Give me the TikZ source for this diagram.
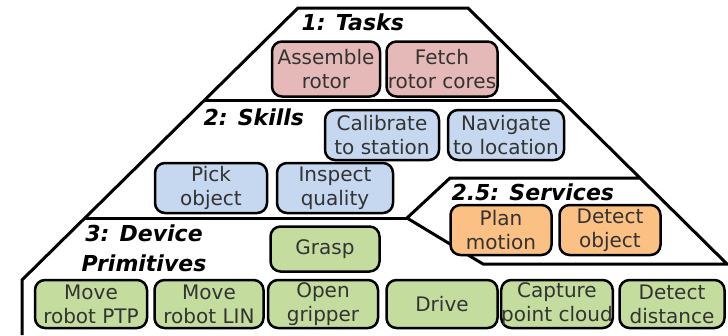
\documentclass[tikz,border=0pt]{standalone}
\usepackage{fontspec}
\setmainfont{DejaVu Sans}
\definecolor{taskred}{RGB}{229,185,183}
\definecolor{skillblue}{RGB}{198,216,239}
\definecolor{serviceorange}{RGB}{250,192,132}
\definecolor{primgreen}{RGB}{196,220,158}

\begin{document}
\begin{tikzpicture}[x=1pt, y=-1pt, line width=3pt,
  box/.style = {draw, line width=2.5pt, rounded corners=10pt, inner sep=0pt, align=center, text=black!80, font=\fontsize{20}{24}\selectfont},
  task/.style = {box, fill=taskred, minimum width=108pt, minimum height=55pt},
  skill/.style = {box, fill=skillblue, minimum width=114pt, minimum height=50pt},
  service/.style = {box, fill=serviceorange, minimum width=101pt, minimum height=50pt},
  prim/.style = {box, fill=primgreen, minimum width=109pt, minimum height=48pt},
  level/.style = {inner sep=0pt, align=center, font=\fontsize{22}{30}\selectfont\bfseries\itshape}]
\useasboundingbox (0,0) rectangle (728,335);

% pyramid outline
\draw (22,335) -- (22,280) -- (298,8) -- (468,8) -- (727,264) -- (483,264) -- (407,218) -- (450,178) -- (640,178);
\draw (407,218) -- (85,218);
\draw (205,100) -- (561,100);

% 1: tasks
\node[level, anchor=west] (tasks) at (300,22) {1: Tasks};
\node[task] (assemble) at (326,69) {Assemble\\rotor};
\node[task, minimum width=111pt] (fetch) at (442,69) {Fetch\\rotor cores};

% 2: skills
\node[level, anchor=west] (skills) at (202,117) {2: Skills};
\node[skill] (calibrate) at (382,135) {Calibrate\\to station};
\node[skill, minimum width=116pt] (navigate) at (506,135) {Navigate\\to location};
\node[skill, minimum width=112pt] (pick) at (211,188) {Pick\\object};
\node[skill, minimum width=116pt] (inspect) at (335,188) {Inspect\\quality};

% 2.5: services
\node[level, anchor=west] (services) at (450,192) {2.5: Services};
\node[service] (plan) at (501,230) {Plan\\motion};
\node[service] (detectobj) at (610,230) {Detect\\object};

% 3: device primitives
\node[level] (prims) at (144,248) {3: Device\\Primitives};
\node[prim, minimum height=45pt] (grasp) at (325,249) {Grasp};
\node[prim, minimum width=112pt] (ptp) at (91,304) {Move\\robot PTP};
\node[prim] (lin) at (209,304) {Move\\robot LIN};
\node[prim, minimum width=110pt] (open) at (323,304) {Open\\gripper};
\node[prim, minimum width=111pt] (drive) at (442,304) {Drive};
\node[prim] (capture) at (557,304) {Capture\\point cloud};
\node[prim, minimum width=105pt] (distance) at (672,304) {Detect\\distance};
\end{tikzpicture}
\end{document}
